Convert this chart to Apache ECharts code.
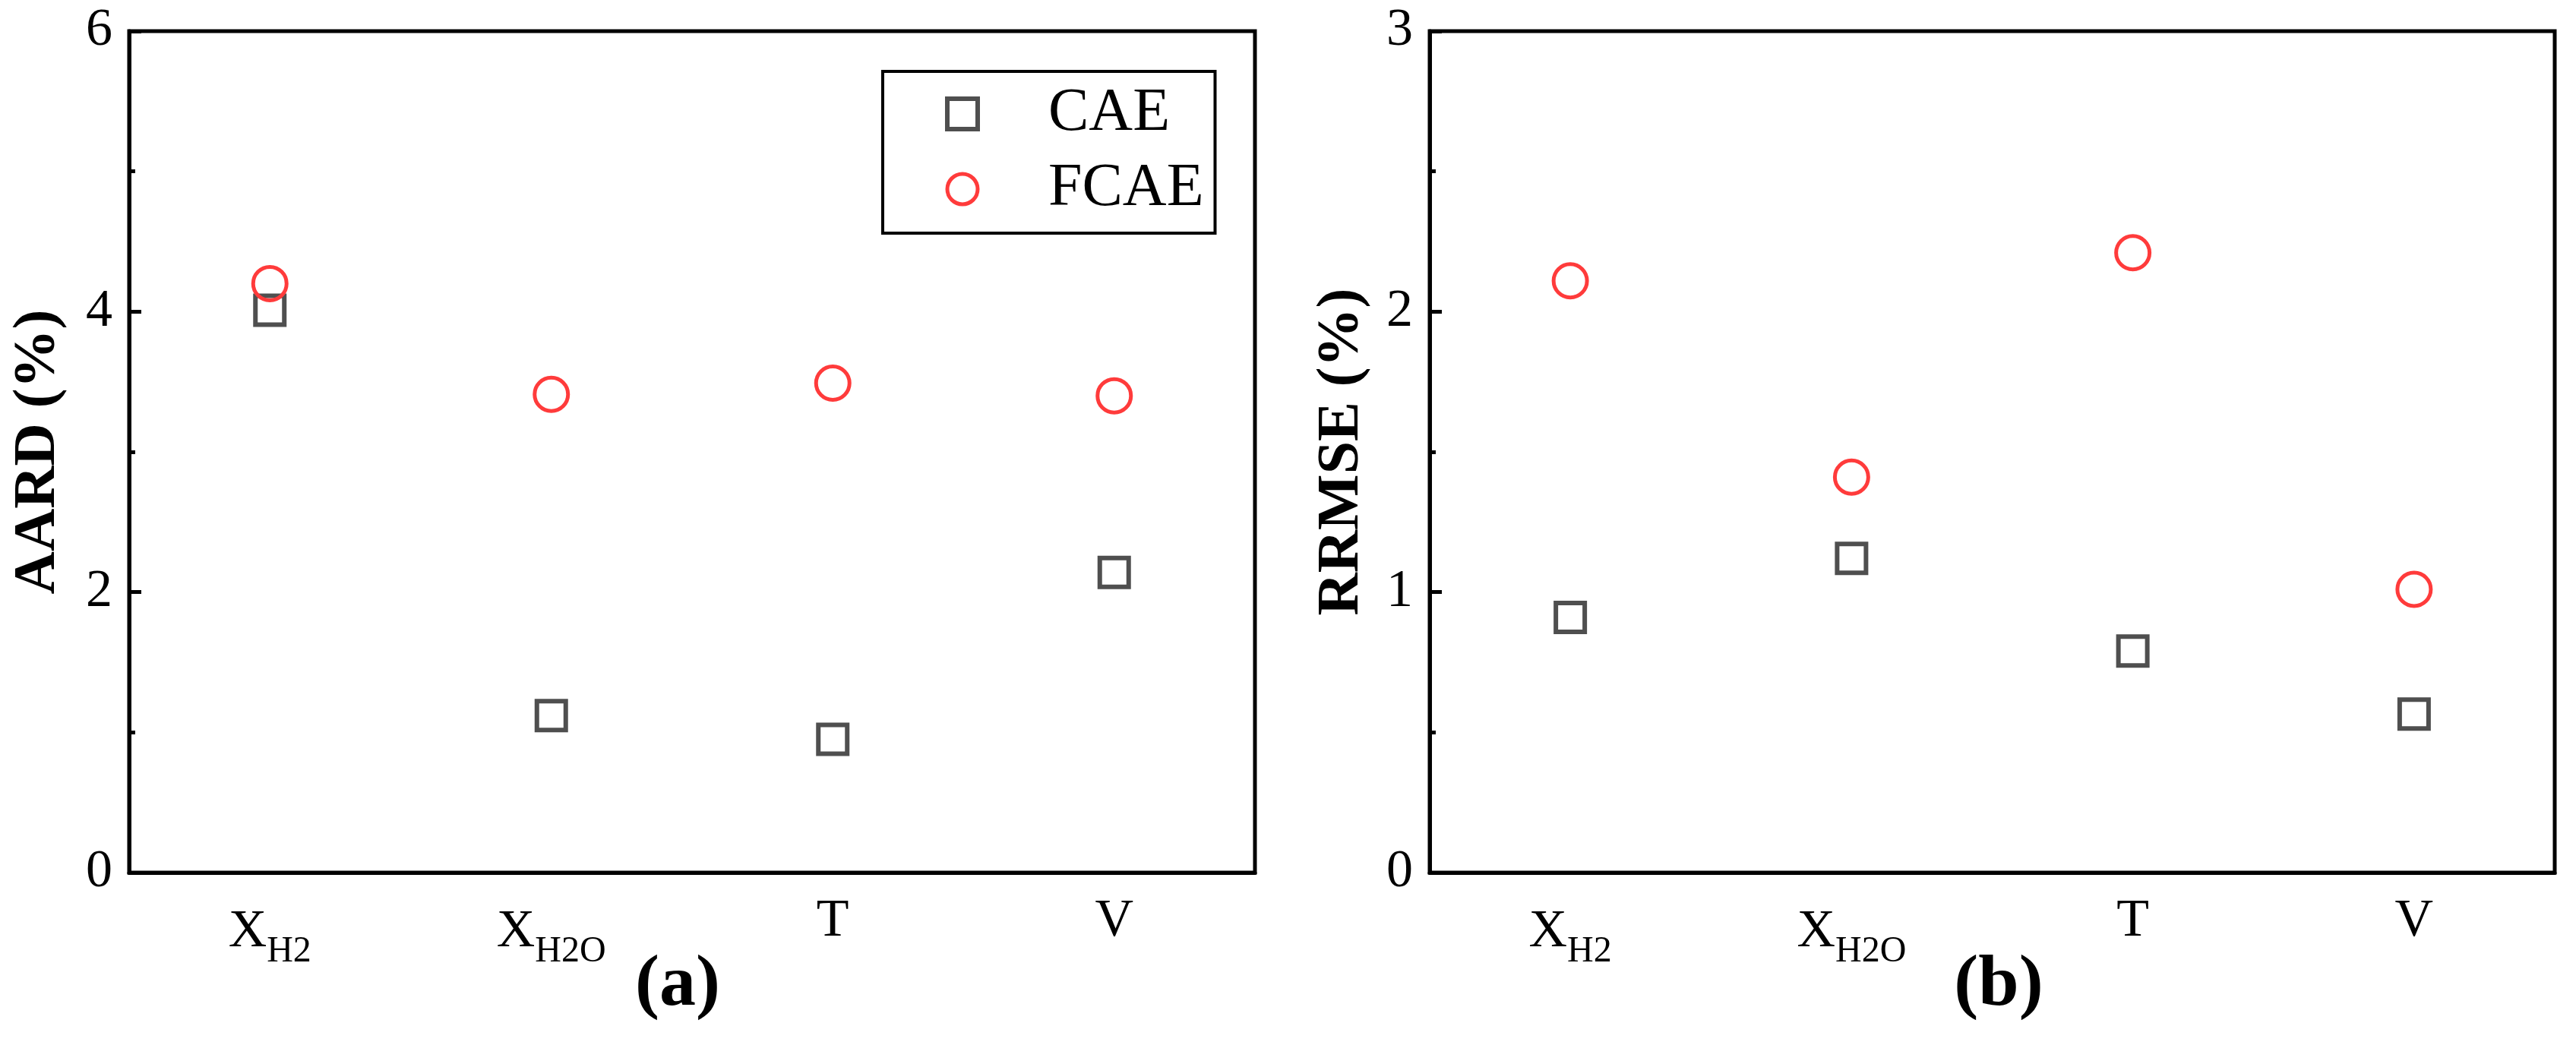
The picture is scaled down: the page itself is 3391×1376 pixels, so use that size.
<!DOCTYPE html>
<html>
<head>
<meta charset="utf-8">
<script src="https://cdn.jsdelivr.net/npm/echarts@6/dist/echarts.min.js"></script>
<style>
  html, body {margin: 0; padding: 0; background: #fff;}
  #chart {width: 3391px; height: 1376px;}
</style>
</head>
<body>
<div id="chart"></div>
<script>
const categories = ['{m|X}{s|H2}', '{m|X}{s|H2O}', '{m|T}', '{m|V}'];
const aardCAE = [4.01, 1.12, 0.95, 2.14];
const aardFCAE = [4.20, 3.41, 3.49, 3.40];
const rrmseCAE = [0.91, 1.12, 0.79, 0.565];
const rrmseFCAE = [2.11, 1.41, 2.21, 1.01];
const aardTicks = [0, 2, 4, 6];
const rrmseTicks = [0, 1, 2, 3];

const font = '"Liberation Serif", "Times New Roman", serif';
const grayC = '#4f4f4f';
const redC = '#ff3b3b';

function xAxisFor(idx) {
    return {
        type: 'category', gridIndex: idx, data: categories, boundaryGap: true,
        axisLine: {lineStyle: {color: '#000', width: 5}},
        axisTick: {inside: true, alignWithLabel: true, length: 18, lineStyle: {color: '#000', width: 5}},
        axisLabel: {
            margin: 30, color: '#000', fontFamily: font,
            rich: {
                m: {fontSize: 70, fontFamily: font, color: '#000'},
                s: {fontSize: 48, fontFamily: font, color: '#000', padding: [50, 0, 0, 0]}
            }
        },
        splitLine: {show: false}
    };
}

function yAxisFor(idx, ticks, name, gap) {
    return {
        type: 'value', gridIndex: idx,
        min: ticks[0], max: ticks[ticks.length - 1], interval: ticks[1] - ticks[0],
        name: name, nameLocation: 'middle', nameGap: gap,
        nameTextStyle: {fontSize: 78, fontWeight: 'bold', fontFamily: font, color: '#000'},
        axisLine: {show: true, lineStyle: {color: '#000', width: 5}},
        axisTick: {show: true, inside: true, length: 16, lineStyle: {color: '#000', width: 5}},
        minorTick: {show: true, splitNumber: 2, length: 8, lineStyle: {color: '#000', width: 5}},
        axisLabel: {margin: 22, fontSize: 70, fontFamily: font, color: '#000'},
        splitLine: {show: false}
    };
}

const caeStyle = {color: 'rgba(0,0,0,0)', borderColor: grayC, borderWidth: 6, opacity: 1};
const fcaeStyle = {color: 'rgba(0,0,0,0)', borderColor: redC, borderWidth: 5, opacity: 1};
const panelLabel = {
    p: {fontSize: 96, fontFamily: font, color: '#000'},
    b: {fontSize: 96, fontWeight: 'bold', fontFamily: font, color: '#000'}
};

const option = {
    backgroundColor: '#fff',
    animation: false,
    title: [
        {text: '{p|(}{b|a}{p|)}', left: 887, top: 1245, textAlign: 'center', textStyle: {rich: panelLabel}},
        {text: '{p|(}{b|b}{p|)}', left: 2626, top: 1245, textAlign: 'center', textStyle: {rich: panelLabel}}
    ],
    legend: {
        data: [
            {name: 'CAE', itemStyle: {borderWidth: 6, borderColor: grayC, color: 'rgba(0,0,0,0)', opacity: 1}},
            {name: 'FCAE', itemStyle: {borderWidth: 5, borderColor: redC, color: 'rgba(0,0,0,0)', opacity: 1}}
        ],
        orient: 'vertical', left: 1162, top: 94,
        padding: [16, 15, 18, 82],
        itemWidth: 40, itemHeight: 40, itemGap: 19,
        borderColor: '#000', borderWidth: 4,
        textStyle: {fontSize: 80, fontFamily: font, color: '#000', padding: [0, 0, 0, 88]}
    },
    grid: [
        {left: 170, top: 41, width: 1482, height: 1108, show: true, borderColor: '#000', borderWidth: 5},
        {left: 1882, top: 41, width: 1481, height: 1108, show: true, borderColor: '#000', borderWidth: 5}
    ],
    xAxis: [xAxisFor(0), xAxisFor(1)],
    yAxis: [yAxisFor(0, aardTicks, 'AARD (%)', 80), yAxisFor(1, rrmseTicks, 'RRMSE (%)', 76)],
    series: [
        {name: 'CAE', type: 'scatter', xAxisIndex: 0, yAxisIndex: 0, symbol: 'rect', symbolSize: 38, itemStyle: caeStyle, data: aardCAE},
        {name: 'FCAE', type: 'scatter', xAxisIndex: 0, yAxisIndex: 0, symbol: 'circle', symbolSize: 44, itemStyle: fcaeStyle, data: aardFCAE},
        {name: 'CAE', type: 'scatter', xAxisIndex: 1, yAxisIndex: 1, symbol: 'rect', symbolSize: 38, itemStyle: caeStyle, data: rrmseCAE},
        {name: 'FCAE', type: 'scatter', xAxisIndex: 1, yAxisIndex: 1, symbol: 'circle', symbolSize: 44, itemStyle: fcaeStyle, data: rrmseFCAE}
    ]
};

const myChart = echarts.init(document.getElementById('chart'));
myChart.setOption(option);
</script>
</body>
</html>
